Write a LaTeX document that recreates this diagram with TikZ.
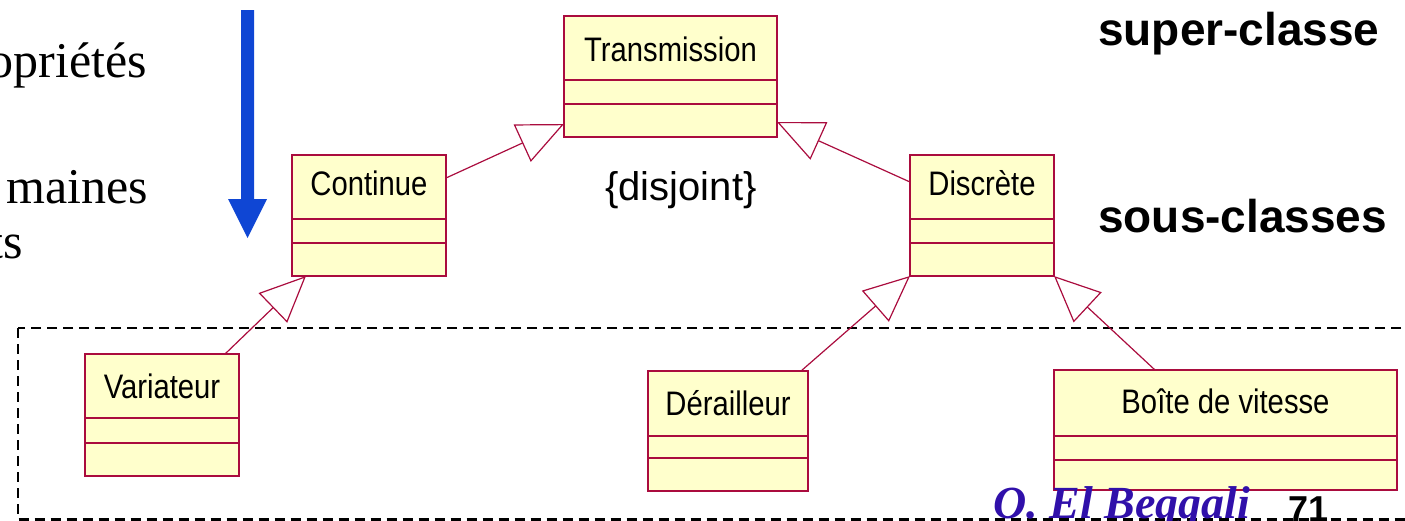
\documentclass[tikz,border=0pt]{standalone}
\usepackage{fontspec}
\setmainfont{Liberation Serif}
\setsansfont{Liberation Sans}
\newfontfamily\umlfont[FakeStretch=0.86]{Liberation Sans}
\usetikzlibrary{arrows.meta,calc}
\definecolor{umlborder}{RGB}{170,12,62}
\definecolor{umlfill}{RGB}{255,255,204}
\definecolor{arrowblue}{RGB}{15,70,212}
\definecolor{authorblue}{RGB}{48,16,170}
\tikzset{
  umlbox/.style={draw=umlborder, fill=umlfill, line width=1.5pt, inner sep=0pt, outer sep=0pt, anchor=north west},
  divline/.style={draw=umlborder, line width=1.2pt},
  umltext/.style={inner sep=0pt, anchor=base, font=\umlfont\fontsize{34}{36}\selectfont},
  gen/.style={draw=umlborder, line width=1.2pt, -{Triangle[length=46pt,width=41pt,fill=white,line width=1.2pt]}},
  lefttext/.style={inner sep=0pt, anchor=base east, font=\rmfamily\fontsize{50}{54}\selectfont},
  righttext/.style={inner sep=0pt, anchor=base west, font=\sffamily\bfseries\fontsize{46}{50}\selectfont},
}
% \umlclass{name}{x}{y}{w}{h}{d1}{d2}{baseline offset}{text}
\newcommand{\umlclass}[9]{%
  \node[umlbox, minimum width=#4pt, minimum height=#5pt] (#1) at (#2,#3) {};
  \draw[divline] ([yshift=-#6pt]#1.north west) -- ([yshift=-#6pt]#1.north east);
  \draw[divline] ([yshift=-#7pt]#1.north west) -- ([yshift=-#7pt]#1.north east);
  \node[umltext] (#1-name) at ([yshift=-#8pt]#1.north) {#9};
}
\begin{document}
\begin{tikzpicture}[x=1pt,y=-1pt]
\useasboundingbox (0,0) rectangle (1405,520);
\clip (0,0) rectangle (1405,520);

% left text (cut off)
\node[lefttext] (t1) at (147,77) {opriétés};
\node[lefttext] (t2) at (148,203) {maines};
\node[lefttext] (t3) at (23,258) {ts};

% blue arrow
\fill[arrowblue] (241,10) -- (254,10) -- (254,199) -- (267,199) -- (247.5,238) -- (228,199) -- (241,199) -- cycle;

% dashed frame
\draw[black, line width=2.5pt, dash pattern=on 10pt off 6pt] (18,328) rectangle (1430,519.5);

% classes
\umlclass{trans}{564}{16}{213}{121}{64}{88}{45}{Transmission}
\umlclass{cont}{292}{155}{154}{121}{64}{88}{40}{Continue}
\umlclass{disc}{910}{155}{144}{121}{64}{88}{40}{Discrète}
\umlclass{var}{85}{354}{154}{122}{64}{89}{44}{Variateur}
\umlclass{der}{648}{371}{160}{120}{65}{87}{44}{Dérailleur}
\umlclass{boite}{1054}{370}{343}{120}{66}{90}{43}{Boîte de vitesse}

% generalisations
\draw[gen] ([yshift=37.5pt]cont.east) -- ([yshift=13pt]trans.south west);
\draw[gen] ([yshift=33.5pt]disc.west) -- ([yshift=15pt]trans.south east);
\draw[gen] ([xshift=63pt]var.north) -- ([xshift=14pt]cont.south west);
\draw[gen] ([xshift=73pt]der.north) -- (disc.south west);
\draw[gen] ([xshift=-70.5pt]boite.north) -- (disc.south east);

% labels
\node[inner sep=0pt, anchor=base, font=\sffamily\fontsize{40}{44}\selectfont] (disj) at (681,200) {\{disjoint\}};
\node[righttext] (super) at (1098,45) {super-classe};
\node[righttext] (sous) at (1098,232) {sous-classes};
\node[inner sep=0pt, anchor=base west, text=authorblue, font=\rmfamily\bfseries\itshape\fontsize{46}{50}\selectfont] (author) at (993,518) {O. El Beggali};
\node[inner sep=0pt, anchor=base west, font=\sffamily\bfseries\fontsize{36}{40}\selectfont] (page) at (1288,521) {71};
\end{tikzpicture}
\end{document}
